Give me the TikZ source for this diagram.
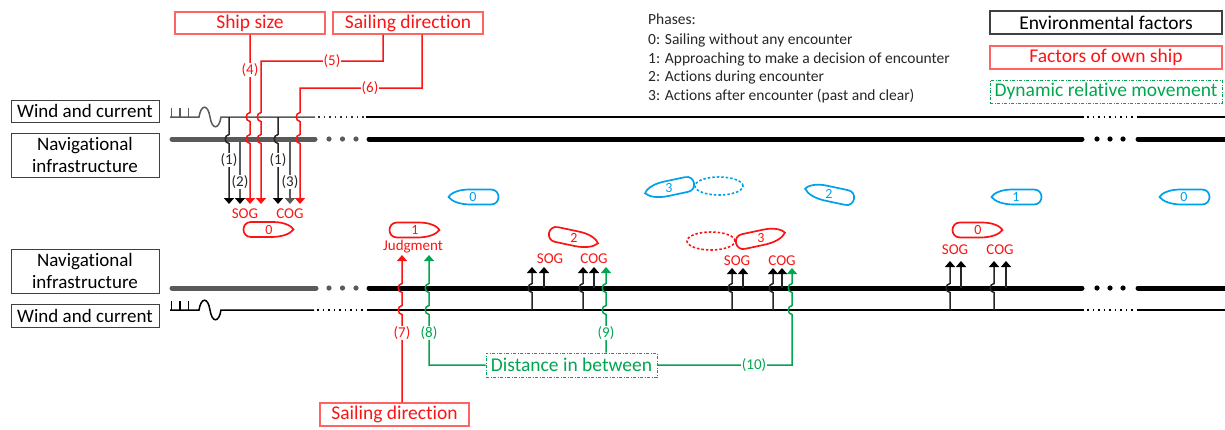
\documentclass[tikz,border=0pt]{standalone}
\usepackage{fontspec}
\setmainfont{Carlito}[Ligatures=NoCommon]
\usetikzlibrary{arrows.meta}

\definecolor{shipred}{RGB}{250,20,20}
\definecolor{boxred}{RGB}{255,100,100}
\definecolor{dgreen}{RGB}{0,166,80}
\definecolor{sblue}{RGB}{0,160,235}
\definecolor{lgray}{RGB}{90,90,90}

\tikzset{
  leftbox/.style={draw=black!75, line width=1pt, minimum width=148pt, inner sep=0pt, align=center,
                  font=\fontsize{19}{22}\selectfont},
  redbox/.style={draw=boxred, line width=1.1pt, text=shipred, minimum height=22pt, inner sep=0pt,
                 font=\fontsize{19.5}{22}\selectfont},
  blackbox/.style={draw=black!75, line width=1.1pt, minimum height=23pt, inner sep=0pt,
                 font=\fontsize{19.5}{22}\selectfont},
  greenbox/.style={draw=dgreen, line width=1pt, dash pattern=on 3pt off 1.5pt on 1pt off 1.5pt,
                 text=dgreen, minimum height=23pt, inner sep=0pt, font=\fontsize{19.5}{22}\selectfont},
  lab/.style={fill=white, inner sep=0.6pt, font=\fontsize{15}{15}\selectfont},
  tag/.style={inner sep=0pt, text=shipred, font=\fontsize{15}{15}\selectfont},
  phase/.style={anchor=base west, inner sep=0pt, text=black!85, font=\fontsize{15.5}{18}\selectfont},
  vline/.style={draw=black!85, line width=1.5pt},
  gline/.style={draw=lgray, line width=1.5pt},
  rline/.style={draw=shipred, line width=1.5pt},
  gnline/.style={draw=dgreen, line width=1.5pt},
  tipk/.style={-{Triangle[width=10pt,length=6pt,color=black]}},
  tipg/.style={-{Triangle[width=10pt,length=6pt,color=lgray]}},
  tipr/.style={-{Triangle[width=10pt,length=6pt,color=shipred]}},
  tipgn/.style={-{Triangle[width=10pt,length=6pt,color=dgreen]}},
  % a vertical line hopping over a horizontal one at height #2 (downwards / upwards)
  hd/.style 2 args={insert path={-- (#1,#2-4.5) .. controls (#1-5,#2-4) and (#1-5,#2+4) .. (#1,#2+4.5)}},
  hu/.style 2 args={insert path={-- (#1,#2+4.5) .. controls (#1-5,#2+4) and (#1-5,#2-4) .. (#1,#2-4.5)}},
  % ship outline, bow pointing to +x
  hull/.pic={
    \draw[line width=1.7pt] (-17,-7.5) -- (5,-7.5) .. controls (17,-7.5) and (24,-3) .. (25.5,0)
       .. controls (22,4.5) and (14,7.5) .. (3,7.5) -- (-17,7.5)
       .. controls (-27,7.5) and (-27,-7.5) .. (-17,-7.5) -- cycle;
    \node[font=\fontsize{14}{14}\selectfont, inner sep=0pt] (-num) at (1,0) {#1};
  },
  ghost/.style={line width=1.6pt, dash pattern=on 2.5pt off 2pt}
}

\begin{document}
\begin{tikzpicture}[x=1pt, y=-1pt]
\useasboundingbox (0,0) rectangle (1225,429);

% ---------- side labels ----------
\node[leftbox, minimum height=22pt] (windA) at (85,111) {Wind and current};
\node[leftbox, minimum height=44pt] (navA) at (85,155) {Navigational\\infrastructure};
\node[leftbox, minimum height=44pt] (navB) at (85,271) {Navigational\\infrastructure};
\node[leftbox, minimum height=23pt] (windB) at (85,315.5) {Wind and current};

% ---------- factor boxes ----------
\node[redbox, minimum width=150pt] (shipsize) at (250,23) {Ship size};
\node[redbox, minimum width=150pt] (saildirA) at (408,23) {Sailing direction};
\node[redbox, minimum width=149pt, minimum height=23pt] (saildirB) at (394.5,414.5) {Sailing direction};
\node[greenbox, minimum width=171pt, minimum height=24pt] (dist) at (571.5,365) {Distance in between};

% ---------- legend ----------
\node[phase] (ph)  at (648,24)  {Phases:};
\node[phase] (ph0) at (648,44)  {0: Sailing without any encounter};
\node[phase] (ph1) at (648,63)  {1: Approaching to make a decision of encounter};
\node[phase] (ph2) at (648,81.5){2: Actions during encounter};
\node[phase] (ph3) at (648,100) {3: Actions after encounter (past and clear)};
\node[blackbox, minimum width=232pt] (envf) at (1106,22.5) {Environmental factors};
\node[redbox, minimum width=232pt, minimum height=23pt] (ownf) at (1106,57.5) {Factors of own ship};
\node[greenbox, minimum width=232pt] (dynf) at (1106,91.5) {Dynamic relative movement};

% ---------- upper lane: wind and current ----------
\draw[lgray, line width=1.5pt] (170,117) -- (199,117)
  .. controls (201,104) and (208,104) .. (210,117)
  .. controls (212,130) and (219,130) .. (221,117) -- (315,117);
\draw[lgray, line width=1.5pt] (171.5,117) -- (171.5,108) (180,117) -- (180,108) (188.5,117) -- (188.5,108);
\draw[black!80, line width=1.5pt, dash pattern=on 1.5pt off 4pt] (318,117) -- (364,117);
\draw[black, line width=1.5pt] (366,117) -- (1084,117);
\draw[black, line width=1.5pt, dash pattern=on 1.5pt off 4pt] (1087,117) -- (1134,117);
\draw[black, line width=1.5pt] (1137,117) -- (1225,117);

% ---------- upper lane: navigational infrastructure ----------
\draw[lgray, line width=5pt, line cap=round] (172,139) -- (315,139);
\fill[lgray] (329,139) circle[radius=2.6pt] (342.5,139) circle[radius=2.6pt] (356,139) circle[radius=2.6pt];
\draw[black, line width=5pt, line cap=round] (369,139) -- (1082,139);
\fill[black] (1097,139) circle[radius=2.6pt] (1110,139) circle[radius=2.6pt] (1123,139) circle[radius=2.6pt];
\draw[black, line width=5pt, line cap=round] (1138,139) -- (1230,139);

% ---------- lower lane: navigational infrastructure ----------
\draw[lgray, line width=5pt, line cap=round] (172,288) -- (316,288);
\fill[lgray] (329,288) circle[radius=2.6pt] (342.5,288) circle[radius=2.6pt] (356,288) circle[radius=2.6pt];
\draw[black, line width=5pt, line cap=round] (369,288) -- (1082,288);
\fill[black] (1097,288) circle[radius=2.6pt] (1110,288) circle[radius=2.6pt] (1123,288) circle[radius=2.6pt];
\draw[black, line width=5pt, line cap=round] (1138,288) -- (1230,288);

% ---------- lower lane: wind and current ----------
\draw[black, line width=1.5pt] (170,310) -- (199,310)
  .. controls (201,297) and (208,297) .. (210,310)
  .. controls (212,323) and (219,323) .. (221,310) -- (314,310);
\draw[black, line width=1.5pt] (171.5,310) -- (171.5,301) (180,310) -- (180,301) (188.5,310) -- (188.5,301);
\draw[black, line width=1.5pt, dash pattern=on 1.5pt off 4pt] (317,310) -- (365,310);
\draw[black, line width=1.5pt] (367,310) -- (1084,310);
\draw[black, line width=1.5pt, dash pattern=on 1.5pt off 4pt] (1087,310) -- (1134,310);
\draw[black, line width=1.5pt] (1137,310) -- (1225,310);

% ---------- arrow ends ----------
\coordinate (t1)  at (229,204);
\coordinate (t2)  at (240,204);
\coordinate (t4)  at (250,204);
\coordinate (t5)  at (261,204);
\coordinate (t1b) at (278,204);
\coordinate (t3)  at (290,204);
\coordinate (t6)  at (300,204);
\coordinate (j7) at (402,255);
\coordinate (j8) at (429,255);

% ---------- upper connectors (SOG / COG of own ship at phase 0) ----------
\draw[vline, tipk] (229,117) [hd={229}{139}] -- (t1);
\draw[gline, tipk] (240,139) -- (t2);
\draw[rline, tipr] (shipsize.south) [hd={250}{117}] [hd={250}{139}] -- (t4);
\draw[rline, tipr] ([xshift=-25pt]saildirA.south) |- (261,61) [hd={261}{117}] [hd={261}{139}] -- (t5);
\draw[vline, tipk] (278,117) [hd={278}{139}] -- (t1b);
\draw[gline, tipg] (290,139) -- (t3);
\draw[rline, tipr] ([xshift=14pt]saildirA.south) |- (300,88) [hd={300}{117}] [hd={300}{139}] -- (t6);

% ---------- judgment ----------
\draw[rline, tipr] ([xshift=7.5pt]saildirB.north) [hu={402}{310}] [hu={402}{288}] -- (j7);
\draw[gnline, tipgn] (dist.west) -- (429,365) [hu={429}{310}] [hu={429}{288}] -- (j8);

% ---------- phase 2 ----------
\draw[vline, tipk] (532,310) [hu={532}{288}] -- (532,267);
\draw[vline, tipk] (544,288) -- (544,267);
\draw[vline, tipk] (583,310) [hu={583}{288}] -- (583,267);
\draw[vline, tipk] (594,288) -- (594,267);
\draw[gnline, tipgn] ([xshift=34.5pt]dist.north) [hu={606}{310}] [hu={606}{288}] -- (606,267);

% ---------- phase 3 ----------
\draw[vline, tipk] (732,310) [hu={732}{288}] -- (732,268);
\draw[vline, tipk] (743,288) -- (743,268);
\draw[vline, tipk] (773,310) [hu={773}{288}] -- (773,268);
\draw[vline, tipk] (782,288) -- (782,268);
\draw[gnline, tipgn] (dist.east) -- (792,365) [hu={792}{310}] [hu={792}{288}] -- (792,268);

% ---------- phase 0 again ----------
\draw[vline, tipk] (950,310) [hu={950}{288}] -- (950,261);
\draw[vline, tipk] (961,288) -- (961,261);
\draw[vline, tipk] (994,310) [hu={994}{288}] -- (994,261);
\draw[vline, tipk] (1006,288) -- (1006,261);

% ---------- connector labels ----------
\node[lab, text=black!85] (n1)  at (229,160) {(1)};
\node[lab, text=black!85] (n2)  at (240,182) {(2)};
\node[lab, text=black!85] (n1b) at (278,160) {(1)};
\node[lab, text=black!85] (n3)  at (290,182) {(3)};
\node[lab, text=shipred] (n4) at (250,70) {(4)};
\node[lab, text=shipred] (n5) at (332,61) {(5)};
\node[lab, text=shipred] (n6) at (370,88) {(6)};
\node[lab, text=shipred] (n7) at (402,333) {(7)};
\node[lab, text=dgreen] (n8) at (429,333) {(8)};
\node[lab, text=dgreen] (n9) at (606,333) {(9)};
\node[lab, text=dgreen] (n10) at (754,365) {(10)};

% ---------- SOG / COG tags ----------
\node[tag] (sogA) at (245,214) {SOG};
\node[tag] (cogA) at (290,214) {COG};
\node[tag] (judg) at (413,247) {Judgment};
\node[tag] (sogB) at (550,259) {SOG};
\node[tag] (cogB) at (594,259) {COG};
\node[tag] (sogC) at (737,261) {SOG};
\node[tag] (cogC) at (782,261) {COG};
\node[tag] (sogD) at (955,250) {SOG};
\node[tag] (cogD) at (1000,250) {COG};

% ---------- own ship (red) ----------
\pic[color=shipred] (rs0) at (268,229.5) {hull=0};
\pic[color=shipred] (rs1) at (414,230) {hull=1};
\pic[color=shipred, rotate=-12] (rs2) at (573,238) {hull=2};
\draw[shipred, ghost] (711,241) ellipse [x radius=24pt, y radius=9pt];
\pic[color=shipred, rotate=12] (rs3) at (760,238) {hull=3};
\pic[color=shipred] (rs0b) at (977,230) {hull=0};

% ---------- other ship (blue) ----------
\pic[color=sblue, xscale=-1] (bs0) at (474,197) {hull=0};
\pic[color=sblue, rotate=12, xscale=-1] (bs3) at (670,188) {hull=3};
\draw[sblue, ghost] (719,186) ellipse [x radius=24pt, y radius=9pt];
\pic[color=sblue, rotate=-12, xscale=-1] (bs2) at (830,194) {hull=2};
\pic[color=sblue, xscale=-1] (bs1) at (1017,197) {hull=1};
\pic[color=sblue, xscale=-1] (bs0b) at (1185,197) {hull=0};
\end{tikzpicture}
\end{document}
